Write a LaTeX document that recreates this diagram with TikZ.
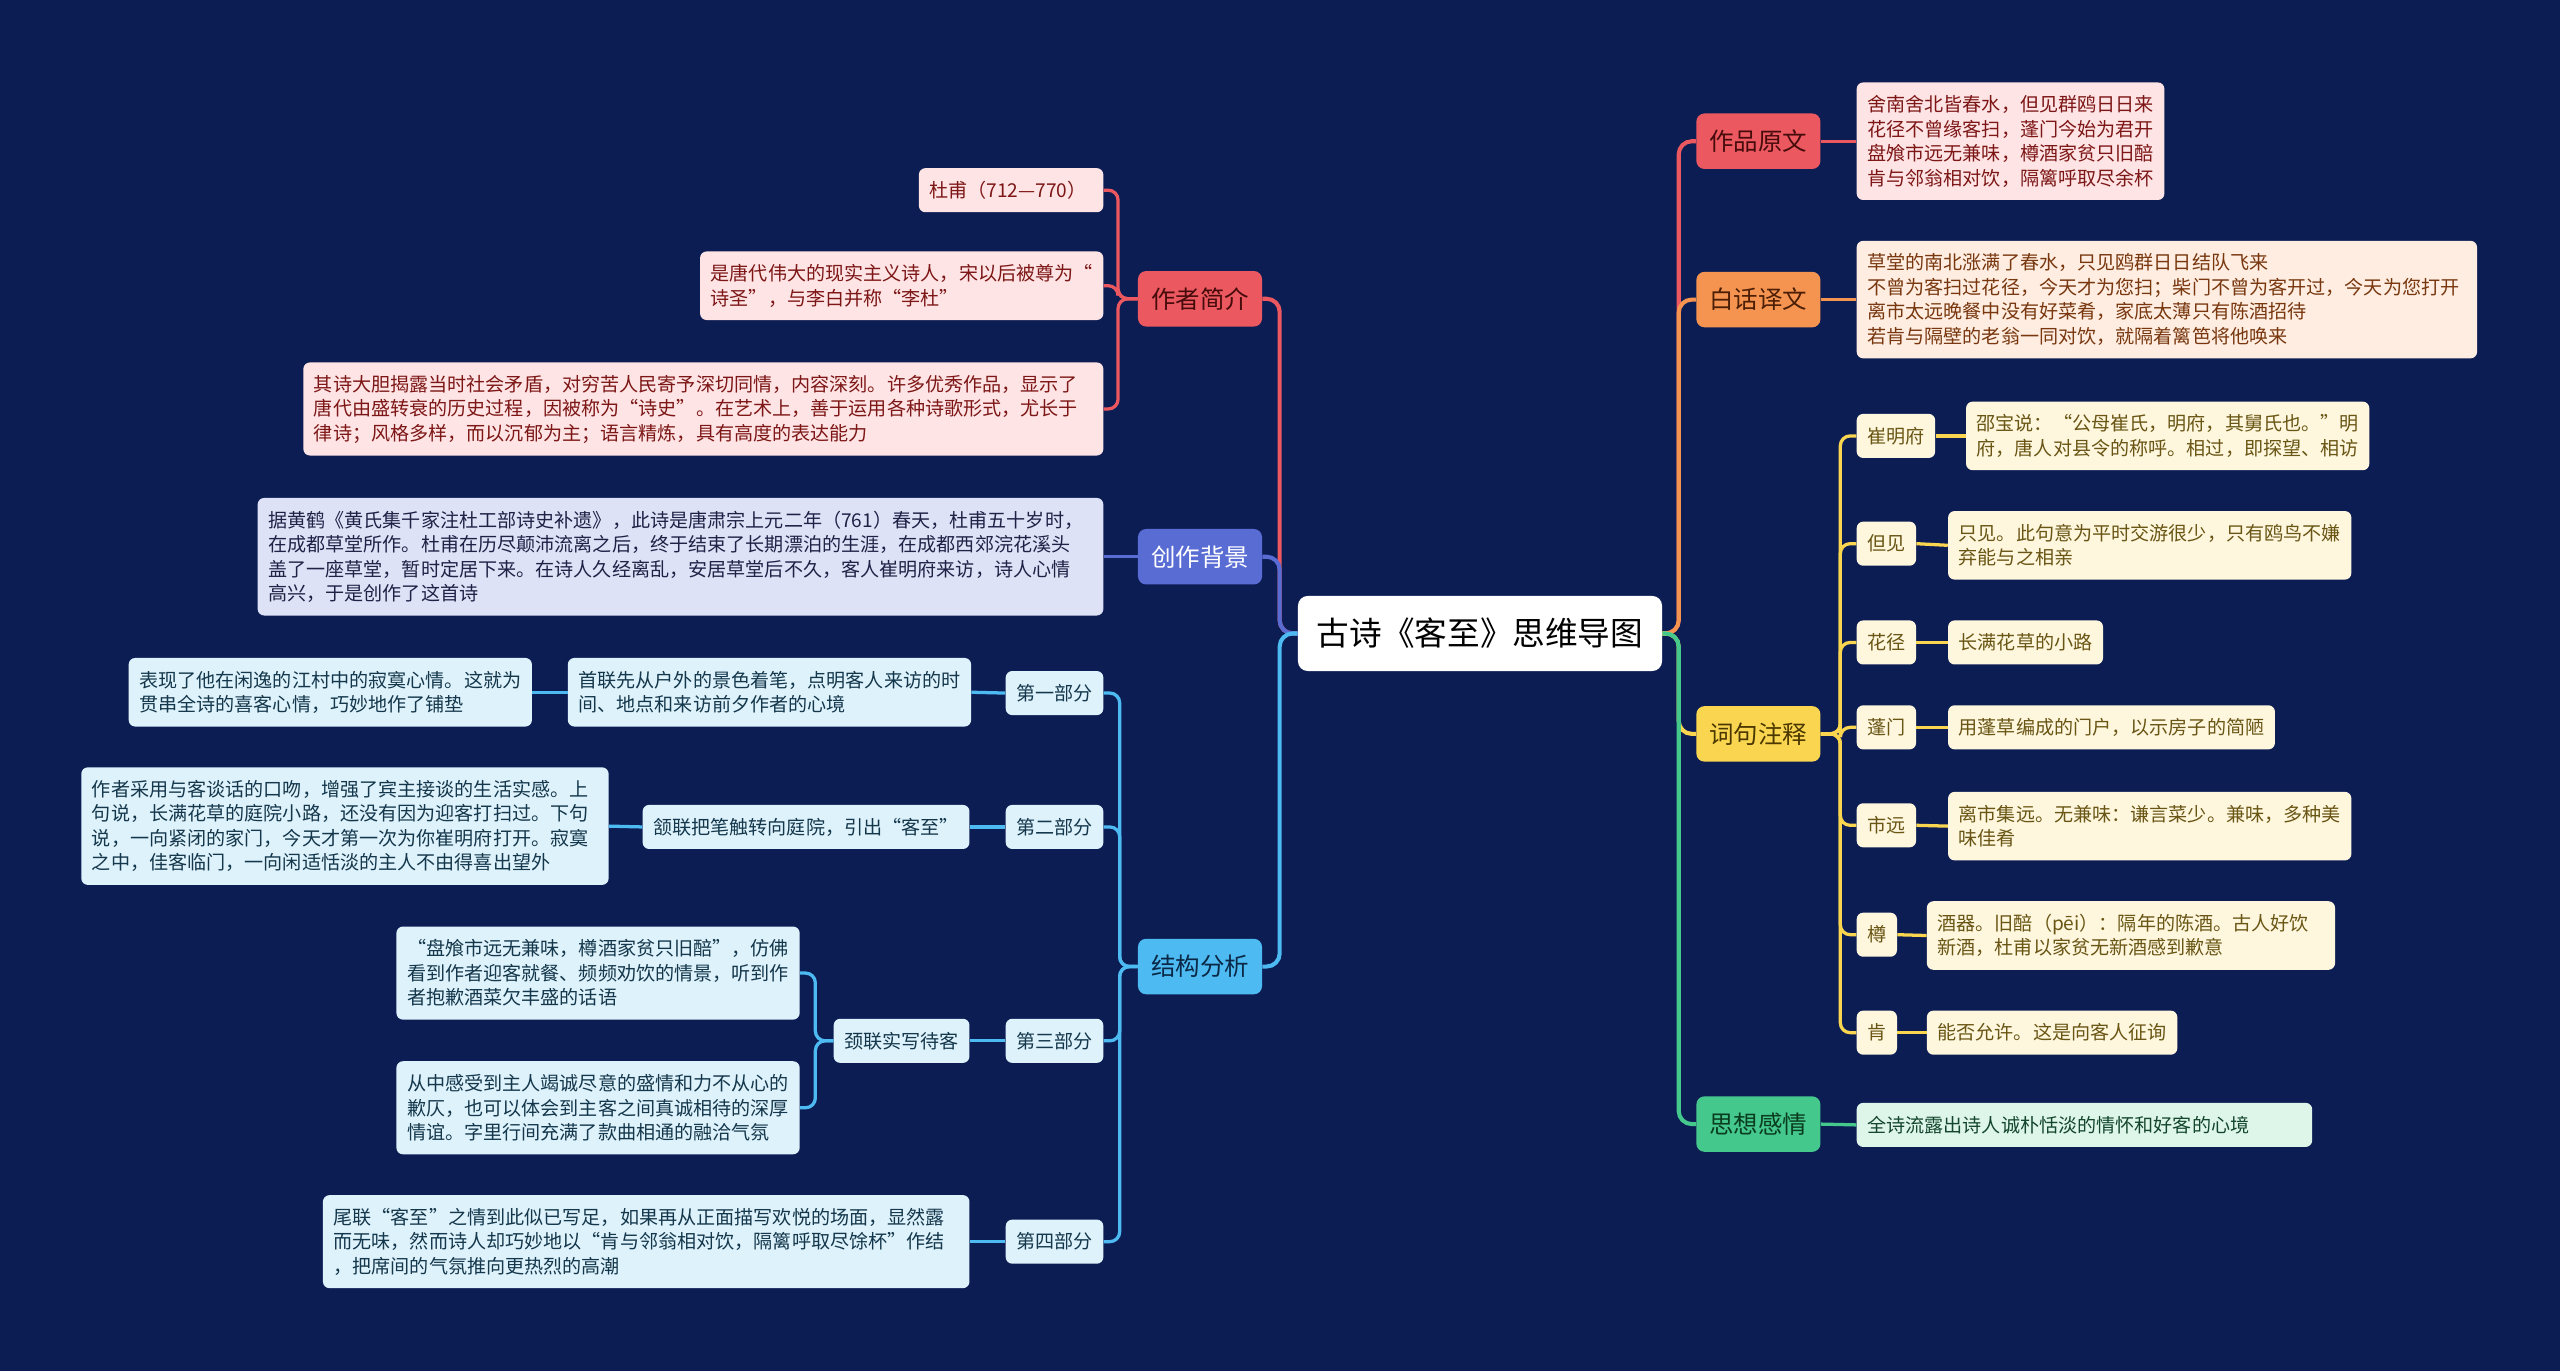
\documentclass[tikz,border=0pt]{standalone}
\usepackage{fontspec}
\setmainfont{Noto Sans CJK SC}
\definecolor{bgc}{RGB}{12,29,84}
\definecolor{cRed}{RGB}{236,88,96}
\definecolor{cBlue}{RGB}{88,108,212}
\definecolor{cSky}{RGB}{78,186,242}
\definecolor{cOrange}{RGB}{245,148,80}
\definecolor{cYellow}{RGB}{250,214,80}
\definecolor{cGreen}{RGB}{68,200,140}
\definecolor{fPink}{RGB}{254,228,228}
\definecolor{tPink}{RGB}{125,22,22}
\definecolor{fLav}{RGB}{222,226,247}
\definecolor{tLav}{RGB}{30,35,70}
\definecolor{fCyan}{RGB}{222,242,252}
\definecolor{tCyan}{RGB}{20,55,75}
\definecolor{fPeach}{RGB}{254,237,224}
\definecolor{tPeach}{RGB}{120,55,15}
\definecolor{fYel}{RGB}{254,247,222}
\definecolor{tYel}{RGB}{105,85,20}
\definecolor{fMint}{RGB}{222,246,233}
\definecolor{tMint}{RGB}{20,70,45}
\tikzset{
  box/.style={rounded corners=4pt, inner xsep=6.5pt, inner ysep=2pt, align=left,
    font=\fontsize{11.7pt}{15pt}\selectfont},
  ln/.style={minimum height=#1*15pt+12pt},
  mainbox/.style={rounded corners=5pt, minimum width=76pt, minimum height=34pt,
    inner sep=0pt, font=\fontsize{15pt}{18pt}\selectfont},
  conn/.style={line width=2.5pt, rounded corners=8pt},
  subc/.style={line width=2pt, rounded corners=6pt},
  pinkbox/.style={box, fill=fPink, text=tPink},
  lavbox/.style={box, fill=fLav, text=tLav},
  cyanbox/.style={box, fill=fCyan, text=tCyan},
  peachbox/.style={box, fill=fPeach, text=tPeach},
  yelbox/.style={box, fill=fYel, text=tYel},
  mintbox/.style={box, fill=fMint, text=tMint},
}
\begin{document}
\begin{tikzpicture}[x=1pt,y=-1pt]
\fill[bgc] (0,0) rectangle (1568,840);
\useasboundingbox (0,0) rectangle (1568,840);

% center
\node[fill=white, rounded corners=6pt, minimum width=223pt, minimum height=46pt, inner sep=0pt,
  font=\fontsize{20pt}{24pt}\selectfont, text=black] (ctr) at (906.5,388) {古诗《客至》思维导图};

% main branches left
\node[mainbox, fill=cRed, text={rgb,255:red,70;green,12;blue,12}] (auth) at (735,183) {作者简介};
\node[mainbox, fill=cBlue, text=white] (bg) at (735,341) {创作背景};
\node[mainbox, fill=cSky, text={rgb,255:red,10;green,40;blue,70}] (jg) at (735,592) {结构分析};
% main branches right
\node[mainbox, fill=cRed, text={rgb,255:red,70;green,12;blue,12}] (yw) at (1077,86.5) {作品原文};
\node[mainbox, fill=cOrange, text={rgb,255:red,75;green,30;blue,5}] (bh) at (1077,183.5) {白话译文};
\node[mainbox, fill=cYellow, text={rgb,255:red,75;green,55;blue,0}] (cj) at (1077,449.5) {词句注释};
\node[mainbox, fill=cGreen, text={rgb,255:red,10;green,60;blue,30}] (sx) at (1077,688.5) {思想感情};

% author children
\node[pinkbox, ln=1, anchor=east, text width=100pt] (a1) at (676,116.5) {杜甫（712—770）};
\node[pinkbox, ln=2, anchor=east] (a2) at (676,175) {是唐代伟大的现实主义诗人，宋以后被尊为“\\诗圣”，与李白并称“李杜”};
\node[pinkbox, ln=3, anchor=east, text width=477pt] (a3) at (676,250.5) {其诗大胆揭露当时社会矛盾，对穷苦人民寄予深切同情，内容深刻。许多优秀作品，显示了\\唐代由盛转衰的历史过程，因被称为“诗史”。在艺术上，善于运用各种诗歌形式，尤长于\\律诗；风格多样，而以沉郁为主；语言精炼，具有高度的表达能力};

% background child
\node[lavbox, ln=4, anchor=east, text width=505pt] (bg1) at (676,341) {据黄鹤《黄氏集千家注杜工部诗史补遗》，此诗是唐肃宗上元二年（761）春天，杜甫五十岁时，\\在成都草堂所作。杜甫在历尽颠沛流离之后，终于结束了长期漂泊的生涯，在成都西郊浣花溪头\\盖了一座草堂，暂时定居下来。在诗人久经离乱，安居草堂后不久，客人崔明府来访，诗人心情\\高兴，于是创作了这首诗};

% structure
\node[cyanbox, ln=1, anchor=east] (p1) at (676,424.5) {第一部分};
\node[cyanbox, ln=1, anchor=east] (p2) at (676,506.5) {第二部分};
\node[cyanbox, ln=1, anchor=east] (p3) at (676,637.5) {第三部分};
\node[cyanbox, ln=1, anchor=east] (p4) at (676,760.5) {第四部分};

\node[cyanbox, ln=2, anchor=east] (p1c) at (595,424) {首联先从户外的景色着笔，点明客人来访的时\\间、地点和来访前夕作者的心境};
\node[cyanbox, ln=2, anchor=east] (p1cc) at (326,424) {表现了他在闲逸的江村中的寂寞心情。这就为\\贯串全诗的喜客心情，巧妙地作了铺垫};
\node[cyanbox, ln=1, anchor=east] (p2c) at (594,506.5) {颔联把笔触转向庭院，引出“客至”};
\node[cyanbox, ln=4, anchor=east, text width=310pt] (p2cc) at (373,506) {作者采用与客谈话的口吻，增强了宾主接谈的生活实感。上\\句说，长满花草的庭院小路，还没有因为迎客打扫过。下句\\说，一向紧闭的家门，今天才第一次为你崔明府打开。寂寞\\之中，佳客临门，一向闲适恬淡的主人不由得喜出望外};
\node[cyanbox, ln=1, anchor=east] (p3c) at (594,637.5) {颈联实写待客};
\node[cyanbox, ln=3, anchor=east] (p3a) at (490,596) {“盘飧市远无兼味，樽酒家贫只旧醅”，仿佛\\看到作者迎客就餐、频频劝饮的情景，听到作\\者抱歉酒菜欠丰盛的话语};
\node[cyanbox, ln=3, anchor=east] (p3b) at (490,678.5) {从中感受到主人竭诚尽意的盛情和力不从心的\\歉仄，也可以体会到主客之间真诚相待的深厚\\情谊。字里行间充满了款曲相通的融洽气氛};
\node[cyanbox, ln=3, anchor=east, text width=383pt] (p4c) at (594,760.5) {尾联“客至”之情到此似已写足，如果再从正面描写欢悦的场面，显然露\\而无味，然而诗人却巧妙地以“肯与邻翁相对饮，隔篱呼取尽馀杯”作结\\，把席间的气氛推向更热烈的高潮};

% right children
\node[pinkbox, ln=4, anchor=west] (yw1) at (1137,86.5) {舍南舍北皆春水，但见群鸥日日来\\花径不曾缘客扫，蓬门今始为君开\\盘飧市远无兼味，樽酒家贫只旧醅\\肯与邻翁相对饮，隔篱呼取尽余杯};
\node[peachbox, ln=4, anchor=west, text width=367pt] (bh1) at (1137,183.5) {草堂的南北涨满了春水，只见鸥群日日结队飞来\\不曾为客扫过花径，今天才为您扫；柴门不曾为客开过，今天为您打开\\离市太远晚餐中没有好菜肴，家底太薄只有陈酒招待\\若肯与隔壁的老翁一同对饮，就隔着篱笆将他唤来};

\node[yelbox, ln=1, anchor=west] (k1) at (1137,267) {崔明府};
\node[yelbox, ln=1, anchor=west] (k2) at (1137,333) {但见};
\node[yelbox, ln=1, anchor=west] (k3) at (1137,393.5) {花径};
\node[yelbox, ln=1, anchor=west] (k4) at (1137,445.5) {蓬门};
\node[yelbox, ln=1, anchor=west] (k5) at (1137,505.5) {市远};
\node[yelbox, ln=1, anchor=west] (k6) at (1137,572.5) {樽};
\node[yelbox, ln=1, anchor=west] (k7) at (1137,632.5) {肯};

\node[yelbox, ln=2, anchor=west] (k1c) at (1204,267) {邵宝说：“公母崔氏，明府，其舅氏也。”明\\府，唐人对县令的称呼。相过，即探望、相访};
\node[yelbox, ln=2, anchor=west] (k2c) at (1193,334) {只见。此句意为平时交游很少，只有鸥鸟不嫌\\弃能与之相亲};
\node[yelbox, ln=1, anchor=west] (k3c) at (1193,393.5) {长满花草的小路};
\node[yelbox, ln=1, anchor=west] (k4c) at (1193,445.5) {用蓬草编成的门户，以示房子的简陋};
\node[yelbox, ln=2, anchor=west] (k5c) at (1193,506) {离市集远。无兼味：谦言菜少。兼味，多种美\\味佳肴};
\node[yelbox, ln=2, anchor=west, text width=237pt] (k6c) at (1180,573) {酒器。旧醅（pēi）：隔年的陈酒。古人好饮\\新酒，杜甫以家贫无新酒感到歉意};
\node[yelbox, ln=1, anchor=west] (k7c) at (1180,632.5) {能否允许。这是向客人征询};

\node[mintbox, ln=1, anchor=west, text width=266pt] (sx1) at (1137,689) {全诗流露出诗人诚朴恬淡的情怀和好客的心境};

% connectors: center to main
\draw[cRed, conn] (ctr.west) -- ++(-11,0) |- (auth.east);
\draw[cBlue, conn] (ctr.west) -- ++(-11,0) |- (bg.east);
\draw[cSky, conn] (ctr.west) -- ++(-11,0) |- (jg.east);
\draw[cRed, conn] (ctr.east) -- ++(10,0) |- (yw.west);
\draw[cOrange, conn] (ctr.east) -- ++(10,0) |- (bh.west);
\draw[cYellow, conn] (ctr.east) -- ++(10,0) |- (cj.west);
\draw[cGreen, conn] (ctr.east) -- ++(10,0) |- (sx.west);

% author
\foreach \n in {a1,a2,a3} \draw[cRed, subc] (auth.west) -- ++(-12,0) |- (\n.east);
\draw[cBlue, subc] (bg.west) -- (bg1.east);
% structure
\foreach \n in {p1,p2,p3,p4} \draw[cSky, subc] (jg.west) -- ++(-11,0) |- (\n.east);
\draw[cSky, subc] (p1.west) -- (p1c.east);
\draw[cSky, subc] (p1c.west) -- (p1cc.east);
\draw[cSky, subc] (p2.west) -- (p2c.east);
\draw[cSky, subc] (p2c.west) -- (p2cc.east);
\draw[cSky, subc] (p3.west) -- (p3c.east);
\draw[cSky, subc] (p3c.west) -- ++(-11,0) |- (p3a.east);
\draw[cSky, subc] (p3c.west) -- ++(-11,0) |- (p3b.east);
\draw[cSky, subc] (p4.west) -- (p4c.east);
% right
\draw[cRed, subc] (yw.east) -- (yw1.west);
\draw[cOrange, subc] (bh.east) -- (bh1.west);
\foreach \n in {k1,k2,k3,k4,k5,k6,k7} \draw[cYellow, subc] (cj.east) -- ++(12,0) |- (\n.west);
\draw[cYellow, subc] (k1.east) -- (k1c.west);
\draw[cYellow, subc] (k2.east) -- (k2c.west);
\draw[cYellow, subc] (k3.east) -- (k3c.west);
\draw[cYellow, subc] (k4.east) -- (k4c.west);
\draw[cYellow, subc] (k5.east) -- (k5c.west);
\draw[cYellow, subc] (k6.east) -- (k6c.west);
\draw[cYellow, subc] (k7.east) -- (k7c.west);
\draw[cGreen, subc] (sx.east) -- (sx1.west);
\end{tikzpicture}
\end{document}
